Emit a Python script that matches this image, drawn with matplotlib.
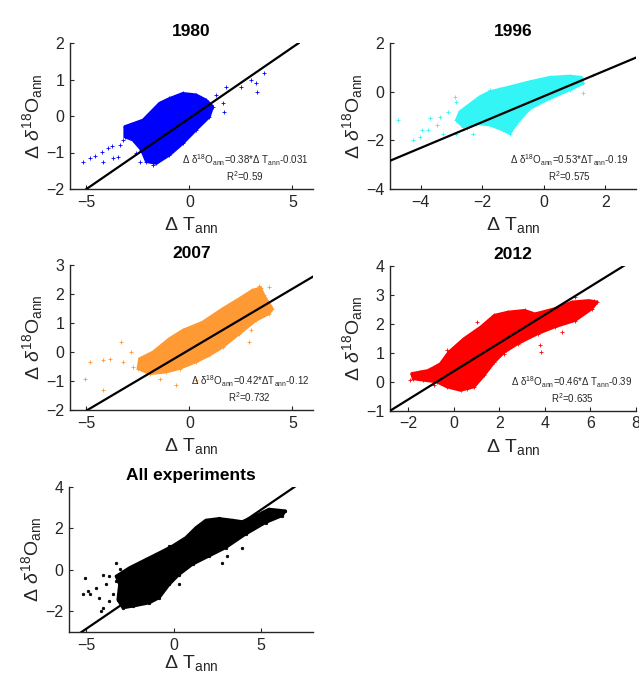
import matplotlib
matplotlib.use("Agg")
import matplotlib.pyplot as plt
import numpy as np

plt.rcParams['font.family'] = ['Liberation Sans', 'DejaVu Sans']
plt.rcParams['mathtext.fontset'] = 'custom'
plt.rcParams['mathtext.rm'] = 'Liberation Sans'
plt.rcParams['mathtext.it'] = 'Liberation Sans:italic'
plt.rcParams['mathtext.bf'] = 'Liberation Sans:bold'

# panel titles and colours
titles = ['1980', '1996', '2007', '2012', 'All experiments']
colors = ['#0000ff', '#33f5f5', '#ff9933', '#ff0000', '#000000']

# axis limits and ticks
xlims = [(-5.8, 6), (-5, 3), (-5.8, 6), (-2.8, 8), (-6, 8)]
ylims = [(-2, 2), (-4, 2), (-2, 3), (-1, 4), (-3, 4)]
xticks = [[-5, 0, 5], [-4, -2, 0, 2], [-5, 0, 5], [-2, 0, 2, 4, 6, 8], [-5, 0, 5]]
yticks = [[-2, -1, 0, 1, 2], [-4, -2, 0, 2], [-2, -1, 0, 1, 2, 3], [-1, 0, 1, 2, 3, 4], [-2, 0, 2, 4]]

# regression lines as drawn (slope, intercept, x start, x end)
line_slope = [0.388, 0.53, 0.42, 0.487, 0.572]
line_icpt = [-0.06, -0.19, 0.08, 0.36, 0.02]
line_x0 = [-5.2, -5.0, -5.0, -2.8, -5.3]
line_x1 = [5.3, 3.0, 6.0, 7.5, 7.0]

# fit equations
slope_txt = ['0.38', '0.53', '0.42', '0.46']
icpt_txt = ['-0.031', '-0.19', '-0.12', '-0.39']
delta_txt = ['Δ ', 'Δ', 'Δ', 'Δ ']
r2_txt = ['0.59', '0.575', '0.732', '0.635']

# dense cores of the point clouds (outline)
core_1980_x = [-3.14, -2.25, -1.45, -0.97, -0.32, 0.32, 0.8, 1.13, 0.97, 0.32, -0.32, -0.97, -1.61, -2.09, -2.33, -2.74, -3.14]
core_1980_y = [-0.29, -0.11, 0.35, 0.48, 0.62, 0.58, 0.44, 0.26, -0.02, -0.38, -0.75, -1.07, -1.3, -1.25, -0.93, -0.66, -0.57]
pts_1980_x = [-5.15, -4.83, -4.59, -4.19, -4.27, -3.95, -3.78, -3.7, -3.38, -3.46, -3.22, -3.06, -2.9, -2.58, -2.42, -2.58,
              3.62, 2.98, 3.22, 3.3, 2.5, 1.77, 1.61, 1.69, -1.29, -0.97, 1.29, -1.69, -1.77]
pts_1980_y = [-1.25, -1.16, -1.1, -1.25, -0.98, -0.89, -0.82, -1.16, -0.79, -1.11, -0.66, -0.43, -0.31, -0.25, -1.25, -1.02,
              1.19, 0.99, 0.91, 0.67, 0.8, 0.8, 0.35, 0.12, 0.39, 0.3, 0.58, -1.21, -1.34]

core_1996_x = [-2.51, -2.08, -1.75, -1.1, -0.45, 0.19, 0.84, 1.22, 1.28, 0.84, 0.19, -0.45, -0.89, -1.1, -1.32, -1.75, -2.19, -2.62, -2.84, -2.73]
core_1996_y = [-0.62, -0.21, 0.0, 0.2, 0.41, 0.59, 0.64, 0.59, 0.34, 0.07, -0.28, -0.69, -1.31, -1.72, -1.58, -1.37, -1.31, -1.44, -1.17, -0.83]
pts_1996_x = [-4.73, -4.24, -4.03, -3.97, -3.76, -3.7, -3.48, -3.38, -2.89, -2.84, -3.11, -3.27, -2.51, -1.86, 1.6, 1.28,
              -1.75, -1.43, -2.84, -2.29]
pts_1996_y = [-1.17, -1.99, -1.86, -1.58, -1.58, -1.1, -1.38, -1.03, -0.21, -0.41, -0.83, -1.72, -1.51, -0.55, 0.68, -0.07,
              0.07, 0.13, -1.72, -1.72]

core_2007_x = [-1.77, -0.97, -0.32, 0.64, 1.61, 2.42, 3.06, 3.46, 3.62, 4.03, 3.86, 3.22, 2.42, 1.61, 0.97, 0.32, -0.48, -1.13, -1.93, -2.5, -2.42]
core_2007_y = [0.0, 0.46, 0.75, 1.03, 1.49, 1.84, 2.13, 2.21, 1.95, 1.49, 1.32, 1.09, 0.63, 0.17, -0.11, -0.34, -0.57, -0.69, -0.75, -0.57, -0.23]
pts_2007_x = [-5.07, -4.19, -4.19, -3.86, -3.3, -3.22, -2.82, -2.74, -2.09, -1.45, -0.64, 0.32, 2.9, 2.98, 3.38, 3.86, -4.83]
pts_2007_y = [-0.92, -0.29, -1.32, -0.23, 0.34, -0.34, 0.0, -0.52, -0.23, -0.92, -1.15, -0.98, 0.34, 0.75, 2.28, 2.24, -0.34]

core_2012_x = [-1.11, -0.59, -0.22, 0.44, 1.19, 1.78, 2.37, 3.11, 3.56, 4.44, 5.19, 5.93, 6.3, 6.07, 5.33, 4.44, 3.7, 2.81,
               2.22, 1.78, 1.33, 0.89, 0.3, -0.3, -0.74, -1.33, -1.78, -1.85]
core_2012_y = [0.39, 0.62, 1.02, 1.48, 1.89, 2.29, 2.4, 2.46, 2.34, 2.52, 2.75, 2.8, 2.75, 2.52, 2.11, 1.89, 1.66, 1.31,
               1.02, 0.68, 0.22, -0.18, -0.3, -0.18, -0.01, 0.05, 0.1, 0.28]
pts_2012_x = [-1.93, -1.48, -1.04, -0.89, -0.3, 0.15, 1.04, 1.93, 3.85, 3.78, 4.74, 6.15, 5.33, 2.22, 1.19, 0.59]
pts_2012_y = [0.05, 0.33, 0.45, -0.13, 1.08, 1.25, 2.06, 1.89, 1.02, 1.25, 1.71, 2.8, 2.92, 0.97, 0.68, -0.24]

core_all_x = [-3.3, -2.53, -1.58, -0.63, -0.06, 0.7, 1.28, 1.85, 2.61, 3.37, 3.94, 4.7, 5.47, 6.42, 6.23, 5.28, 4.13, 2.99,
              2.04, 1.09, 0.32, -0.25, -0.82, -1.39, -2.34, -2.91, -3.2, -3.1]
core_all_y = [-0.31, 0.1, 0.5, 0.9, 1.15, 1.55, 2.03, 2.39, 2.47, 2.39, 2.32, 2.6, 2.92, 2.84, 2.6, 2.27, 1.71, 1.06,
              0.66, 0.26, -0.23, -0.71, -1.35, -1.6, -1.76, -1.84, -1.44, -0.71]
pts_all_x = [-5.2, -4.91, -4.44, -3.87, -3.3, -5.1, -4.06, -3.68, -3.3, -3.1, -4.25, -3.68, -4.15, -4.06, -3.49, -4.82,
             -0.25, 2.8, 3.09, 3.94, 0.32, 5.47, 5.85]
pts_all_y = [-1.19, -1.03, -0.87, -0.71, -0.55, -0.39, -0.23, -0.31, 0.34, 0.02, -1.35, -1.52, -2.0, -1.84, -1.19, -1.19,
             1.15, 0.34, 0.66, 1.06, -0.71, 2.68, 2.76]

cores = [(core_1980_x, core_1980_y), (core_1996_x, core_1996_y), (core_2007_x, core_2007_y),
         (core_2012_x, core_2012_y), (core_all_x, core_all_y)]
points = [(pts_1980_x, pts_1980_y), (pts_1996_x, pts_1996_y), (pts_2007_x, pts_2007_y),
          (pts_2012_x, pts_2012_y), (pts_all_x, pts_all_y)]

# axes boxes in figure pixels (left, top, width, height)
W, H = 639, 675
boxes = [(70, 43, 243, 146), (390, 43, 246, 146), (70, 265, 243, 145),
         (390, 265.7, 246, 145), (69, 486.7, 244, 145.3)]
txt_x = [0.72, 0.73, 0.74, 0.74]
xpad = [4, 4, 4, 4, 0.5]

fig = plt.figure(figsize=(W / 100, H / 100), dpi=100)

ylab = r'$\Delta\ \delta^{18}\mathrm{O}_{\mathrm{ann}}$'
xlab = r'$\Delta\ \mathrm{T}_{\mathrm{ann}}$'

for i in range(5):
    l, t, w, h = boxes[i]
    ax = fig.add_axes([l / W, 1 - (t + h) / H, w / W, h / H])
    c = colors[i]
    cx, cy = cores[i]
    ax.fill(cx, cy, color=c, lw=2.0, joinstyle='round', zorder=1)
    mk = '.' if i == 4 else '+'
    ms = 3.5 if i == 4 else 3
    ax.plot(cx, cy, ls='none', marker=mk, ms=ms, mew=0.6, color=c, zorder=1)
    px, py = points[i]
    ax.plot(px, py, ls='none', marker=mk, ms=ms, mew=0.6, color=c, zorder=1)

    lx = np.array([line_x0[i], line_x1[i]])
    ax.plot(lx, line_slope[i] * lx + line_icpt[i], color='black', lw=1.6, zorder=3)

    ax.set_xlim(xlims[i])
    ax.set_ylim(ylims[i])
    ax.set_xticks(xticks[i])
    ax.set_yticks(yticks[i])
    ax.spines['top'].set_visible(False)
    ax.spines['right'].set_visible(False)
    for s in ['left', 'bottom']:
        ax.spines[s].set_linewidth(1.0)
        ax.spines[s].set_color('#262626')
    ax.tick_params(direction='in', length=3, width=0.8, labelsize=11.5, colors='#262626', pad=4)
    ax.set_title(titles[i], fontsize=12.5, fontweight='bold', pad=5)
    ax.set_ylabel(ylab, fontsize=14, labelpad=1, color='#262626')
    ax.set_xlabel(xlab, fontsize=14, labelpad=xpad[i], color='#262626')

    if i < 4:
        eq = ('Δ δ$^{18}$O$_{\\mathrm{ann}}$=' + slope_txt[i] + '*' + delta_txt[i]
              + 'T$_{\\mathrm{ann}}$' + icpt_txt[i])
        ax.text(txt_x[i], 0.2, eq, transform=ax.transAxes, ha='center', va='center', fontsize=7, color='#262626')
        ax.text(txt_x[i], 0.09, 'R$^{2}$=' + r2_txt[i], transform=ax.transAxes,
                ha='center', va='center', fontsize=7, color='#262626')

fig.savefig('out.png', dpi=100)
